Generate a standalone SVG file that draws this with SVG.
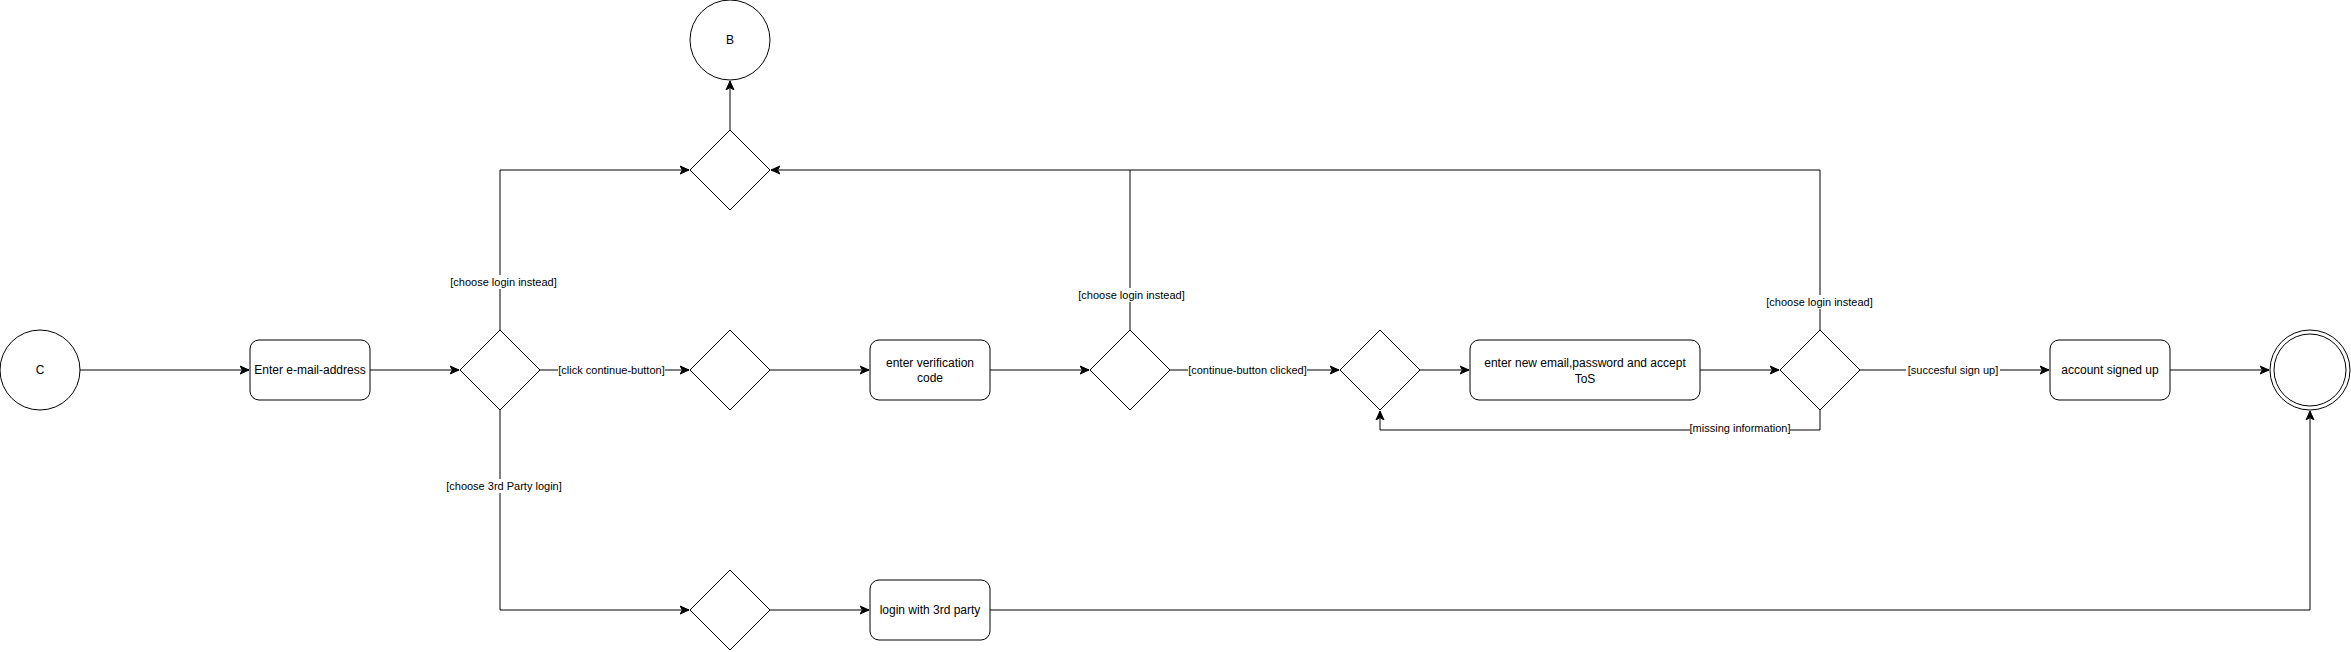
<svg xmlns="http://www.w3.org/2000/svg" width="2351" height="652" viewBox="0 0 2351 652">
<style>
.shape{fill:#fff;stroke:#000;stroke-width:1}
.edge{fill:none;stroke:#000;stroke-width:1}
.t{font-family:"Liberation Sans",Arial,sans-serif;font-size:12px;fill:#000;text-anchor:middle;dominant-baseline:central}
.lbl{font-family:"Liberation Sans",Arial,sans-serif;font-size:11px;fill:#000;text-anchor:middle;dominant-baseline:central}
.lbg{fill:#fff;stroke:none}
</style>
<defs>
<marker id="arr" markerUnits="userSpaceOnUse" markerWidth="10" markerHeight="10" refX="9" refY="5" orient="auto">
<path d="M0,1 L9,5 L0,9 L2.5,5 z" fill="#000" stroke="#000" stroke-width="1"/>
</marker>
</defs>
<rect width="2351" height="652" fill="#fff"/>
<g id="connectors">
<path class="edge" d="M80,370 H249" marker-end="url(#arr)"/>
<path class="edge" d="M370,370 H459" marker-end="url(#arr)"/>
<path class="edge" d="M540,370 H689" marker-end="url(#arr)"/>
<path class="edge" d="M500,330 V170 H689" marker-end="url(#arr)"/>
<path class="edge" d="M500,410 V610 H689" marker-end="url(#arr)"/>
<path class="edge" d="M770,370 H869" marker-end="url(#arr)"/>
<path class="edge" d="M990,370 H1089" marker-end="url(#arr)"/>
<path class="edge" d="M1170,370 H1339" marker-end="url(#arr)"/>
<path class="edge" d="M1130,330 V170 H771" marker-end="url(#arr)"/>
<path class="edge" d="M1420,370 H1469" marker-end="url(#arr)"/>
<path class="edge" d="M1700,370 H1779" marker-end="url(#arr)"/>
<path class="edge" d="M1820,330 V170 H1130"/>
<path class="edge" d="M1820,410 V430 H1380 V411" marker-end="url(#arr)"/>
<path class="edge" d="M1860,370 H2049" marker-end="url(#arr)"/>
<path class="edge" d="M2170,370 H2269" marker-end="url(#arr)"/>
<path class="edge" d="M730,130 V81" marker-end="url(#arr)"/>
<path class="edge" d="M770,610 H869" marker-end="url(#arr)"/>
<path class="edge" d="M990,610 H2310 V411" marker-end="url(#arr)"/>
<g id="edge-labels">
<rect class="lbg" x="450" y="275" width="107" height="14"/>
<text class="lbl" x="503.5" y="281.5">[choose login instead]</text>
<rect class="lbg" x="558" y="363" width="107" height="14"/>
<text class="lbl" x="611.5" y="370">[click continue-button]</text>
<rect class="lbg" x="446" y="479" width="116" height="14"/>
<text class="lbl" x="504" y="485.5">[choose 3rd Party login]</text>
<rect class="lbg" x="1188" y="363" width="119" height="14"/>
<text class="lbl" x="1247.5" y="370">[continue-button clicked]</text>
<rect class="lbg" x="1078" y="288" width="107" height="14"/>
<text class="lbl" x="1131.5" y="295">[choose login instead]</text>
<rect class="lbg" x="1766" y="295" width="107" height="14"/>
<text class="lbl" x="1819.5" y="301.5">[choose login instead]</text>
<rect class="lbg" x="1690" y="421" width="100" height="14"/>
<text class="lbl" x="1740" y="428">[missing information]</text>
<rect class="lbg" x="1906" y="363" width="94" height="14"/>
<text class="lbl" x="1953" y="370">[succesful sign up]</text>
</g>
</g>
<g id="node-C">
<circle class="shape" cx="40" cy="370" r="40"/>
<text class="t" x="40" y="370">C</text>
</g>
<g id="node-B">
<circle class="shape" cx="730" cy="40" r="40"/>
<text class="t" x="730" y="40">B</text>
</g>
<g id="node-enter-email">
<rect class="shape" x="250" y="340" width="120" height="60" rx="9" ry="9"/>
<text class="t" x="310" y="370">Enter e-mail-address</text>
</g>
<g id="node-d1">
<polygon class="shape" points="500,330 540,370 500,410 460,370"/>
</g>
<g id="node-d2">
<polygon class="shape" points="730,330 770,370 730,410 690,370"/>
</g>
<g id="node-dtop">
<polygon class="shape" points="730,130 770,170 730,210 690,170"/>
</g>
<g id="node-d6">
<polygon class="shape" points="730,570 770,610 730,650 690,610"/>
</g>
<g id="node-verification">
<rect class="shape" x="870" y="340" width="120" height="60" rx="9" ry="9"/>
<text class="t" x="930" y="363">enter verification</text>
<text class="t" x="930" y="378">code</text>
</g>
<g id="node-d3">
<polygon class="shape" points="1130,330 1170,370 1130,410 1090,370"/>
</g>
<g id="node-d4">
<polygon class="shape" points="1380,330 1420,370 1380,410 1340,370"/>
</g>
<g id="node-new-account">
<rect class="shape" x="1470" y="340" width="230" height="60" rx="9" ry="9"/>
<text class="t" x="1585" y="363">enter new email,password and accept</text>
<text class="t" x="1585" y="379">ToS</text>
</g>
<g id="node-d5">
<polygon class="shape" points="1820,330 1860,370 1820,410 1780,370"/>
</g>
<g id="node-signed-up">
<rect class="shape" x="2050" y="340" width="120" height="60" rx="9" ry="9"/>
<text class="t" x="2110" y="370">account signed up</text>
</g>
<g id="node-final">
<circle class="shape" cx="2310" cy="370" r="40"/>
<circle class="shape" cx="2310" cy="370" r="36"/>
</g>
<g id="node-3rd-party">
<rect class="shape" x="870" y="580" width="120" height="60" rx="9" ry="9"/>
<text class="t" x="930" y="610">login with 3rd party</text>
</g>
</svg>
